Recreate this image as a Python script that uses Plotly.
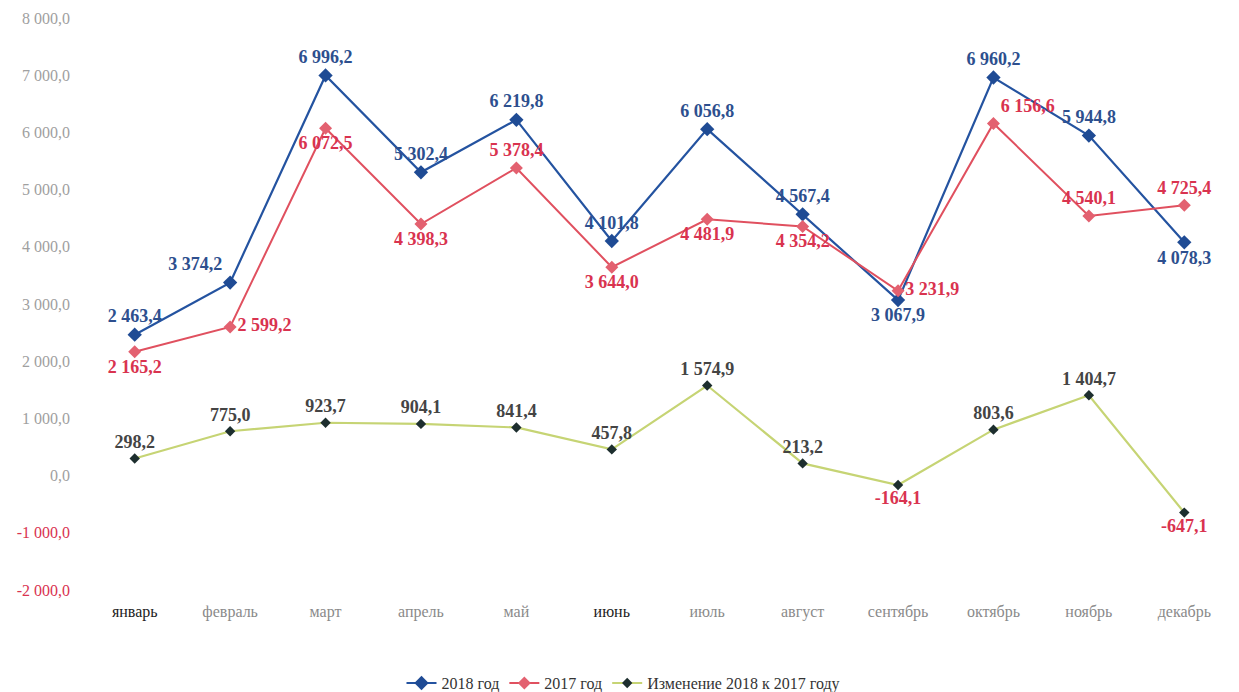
import plotly.graph_objects as go

months = ["январь", "февраль", "март", "апрель", "май", "июнь",
          "июль", "август", "сентябрь", "октябрь", "ноябрь", "декабрь"]
y2018 = [2463.4, 3374.2, 6996.2, 5302.4, 6219.8, 4101.8, 6056.8, 4567.4, 3067.9, 6960.2, 5944.8, 4078.3]
y2017 = [2165.2, 2599.2, 6072.5, 4398.3, 5378.4, 3644.0, 4481.9, 4354.2, 3231.9, 6156.6, 4540.1, 4725.4]
change = [298.2, 775.0, 923.7, 904.1, 841.4, 457.8, 1574.9, 213.2, -164.1, 803.6, 1404.7, -647.1]
ytick_vals = [-2000, -1000, 0, 1000, 2000, 3000, 4000, 5000, 6000, 7000, 8000]
ytick_text = ["-2 000,0", "-1 000,0", "0,0", "1 000,0", "2 000,0", "3 000,0",
              "4 000,0", "5 000,0", "6 000,0", "7 000,0", "8 000,0"]
series_names = ["2018 год", "2017 год", "Изменение 2018 к 2017 году"]


def fmt(v):
    s = f"{abs(v):,.1f}".replace(",", " ").replace(".", ",")
    return ("-" if v < 0 else "") + s


pos2018 = ["top center", "top left", "top center", "top center", "top center", "top center",
           "top center", "top center", "bottom center", "top center", "top center", "bottom center"]
pos2017 = ["bottom center", "middle right", "bottom center", "bottom center", "top center", "bottom center",
           "bottom center", "bottom center", "middle right", "top right", "top center", "top center"]
posch = ["top center" if v >= 0 else "bottom center" for v in change]

BLUE = "#2453a0"
RED = "#e0505f"
GREEN = "#c6d474"
SERIF = "Liberation Serif, Times New Roman, serif"

fig = go.Figure()
fig.add_trace(go.Scatter(
    x=months, y=y2018, name=series_names[0], mode="lines+markers+text",
    line=dict(color=BLUE, width=2.2),
    marker=dict(symbol="diamond", size=11, color="#1f4b94"),
    text=[fmt(v) for v in y2018], textposition=pos2018,
    textfont=dict(family=SERIF, size=18, color="#2d4f8e", weight="bold"),
    cliponaxis=False,
))
fig.add_trace(go.Scatter(
    x=months, y=y2017, name=series_names[1], mode="lines+markers+text",
    line=dict(color=RED, width=2),
    marker=dict(symbol="diamond", size=10, color="#e36170"),
    text=[fmt(v) for v in y2017], textposition=pos2017,
    textfont=dict(family=SERIF, size=18, color="#d9334f", weight="bold"),
    cliponaxis=False,
))
fig.add_trace(go.Scatter(
    x=months, y=change, name=series_names[2], mode="lines+markers+text",
    line=dict(color=GREEN, width=2.2),
    marker=dict(symbol="diamond", size=8, color="#1d2e2e"),
    text=[fmt(v) for v in change], textposition=posch,
    textfont=dict(family=SERIF, size=18, weight="bold",
                  color=["#444444" if v >= 0 else "#d9334f" for v in change]),
    cliponaxis=False,
))

ytext_colored = [f"<span style='color:#d9334f'>{t}</span>" if v < 0 else t
                 for v, t in zip(ytick_vals, ytick_text)]
xtext_colored = [f"<span style='color:#222222'>{m}</span>" if m in ("январь", "июнь") else m
                 for m in months]

fig.update_layout(
    width=1231, height=684,
    margin=dict(l=79, r=7, t=10, b=102, autoexpand=False),
    paper_bgcolor="white", plot_bgcolor="white",
    showlegend=True,
    legend=dict(orientation="h", xref="container", x=0.5, xanchor="center",
                yref="container", y=0.013, yanchor="middle",
                font=dict(family=SERIF, size=16, color="#333333"),
                tracegroupgap=0),
    xaxis=dict(type="category", range=[-0.5, 11.5], showgrid=False, zeroline=False,
               showline=False, ticks="", tickvals=months, ticktext=xtext_colored,
               ticklabelstandoff=10,
               tickfont=dict(family=SERIF, size=16, color="#8a8a8a")),
    yaxis=dict(range=[-2000, 8000], tickvals=ytick_vals, ticktext=ytext_colored,
               showgrid=False, zeroline=False, showline=False, ticks="",
               ticklabelstandoff=16,
               tickfont=dict(family=SERIF, size=16, color="#a0a0a0")),
)

fig.write_html("out.html")
